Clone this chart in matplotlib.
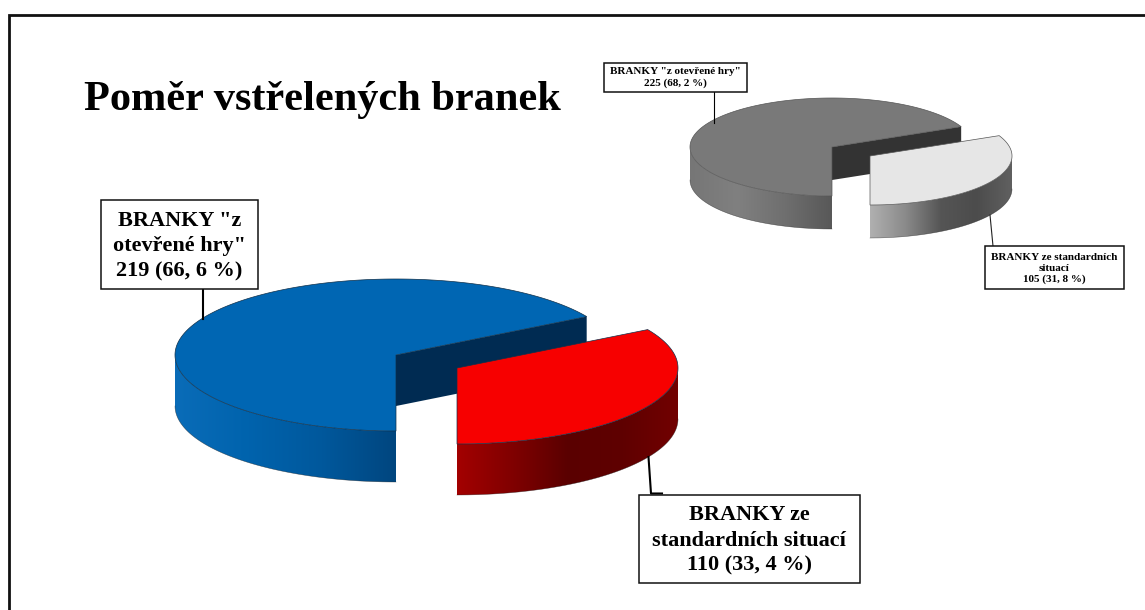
import numpy as np
import matplotlib
matplotlib.use('Agg')
import matplotlib.pyplot as plt
from matplotlib.colors import LinearSegmentedColormap
from matplotlib.patches import Polygon, Rectangle

# hodnoty z grafu
main_values = [219, 110]
main_labels = ['BRANKY "z\notevřené hry"\n219 (66, 6 %)',
               'BRANKY ze\nstandardních situací\n110 (33, 4 %)']
small_values = [225, 105]
small_labels = ['BRANKY "z otevřené hry"\n225 (68, 2 %)',
                'BRANKY ze standardních\nsituací\n105 (31, 8 %)']
title = 'Poměr vstřelených branek'

plt.rcParams['font.family'] = ['Liberation Serif', 'DejaVu Serif']

fig = plt.figure(figsize=(11.45, 6.1), dpi=100)
ax = fig.add_axes([0, 0, 1, 1])
ax.axis('off')


def arc(cx, cy, rx, ry, a0, a1, n=200):
    t = np.radians(np.linspace(a0, a1, n))
    return cx + rx * np.cos(t), cy - ry * np.sin(t)


def side(cx, cy, rx, ry, depth, a0, a1, colors):
    # bocni stena: vodorovny prechod orezany tvarem steny
    cmap = LinearSegmentedColormap.from_list('side', colors)
    x, y = arc(cx, cy, rx, ry, a0, a1, 160)
    pts = np.r_[np.c_[x, y], np.c_[x, y + depth][::-1]]
    shape = Polygon(pts, closed=True, facecolor='none', edgecolor='none',
                    transform=ax.transData)
    ax.add_patch(shape)
    im = ax.imshow(np.linspace(0, 1, 256).reshape(1, -1), cmap=cmap, aspect='auto',
                   extent=(x.min(), x.max(), y.max() + depth, y.min()), zorder=2)
    im.set_clip_path(shape)
    ax.plot(x, y + depth, color='#222222', lw=0.4, alpha=0.6, zorder=3)


def pie3d(values, c1, c2, r, depth, col):
    # prvni dil konci dole (270 stupnu), druhy je vysunuty doprava
    a_big = 360 * values[0] / sum(values)
    start = 270 - a_big
    rx, ry = r
    # rez velkeho dilu
    x0, y0 = c1
    xe = x0 + rx * np.cos(np.radians(start))
    ye = y0 - ry * np.sin(np.radians(start))
    ax.fill([x0, xe, xe, x0], [y0, ye, ye + depth, y0 + depth],
            color=col['cut'], lw=0, zorder=1)
    side(x0, y0, rx, ry, depth, 180, 270, col['side1'])
    x, y = arc(x0, y0, rx, ry, start, 270)
    ax.fill(np.r_[x0, x], np.r_[y0, y], facecolor=col['top1'],
            edgecolor=col['edge'], lw=0.5, zorder=4)
    # vysunuty dil
    x1, y1 = c2
    side(x1, y1, rx, ry, depth, 270, 360, col['side2'])
    x, y = arc(x1, y1, rx, ry, 270, 360 + start)
    ax.fill(np.r_[x1, x], np.r_[y1, y], facecolor=col['top2'],
            edgecolor=col['edge'], lw=0.5, zorder=5)


def label(box, text, size, spacing, dy=0):
    x0, y0, x1, y1 = box
    ax.add_patch(Rectangle((x0, y0), x1 - x0, y1 - y0, facecolor='white',
                           edgecolor='#111111', lw=1.1, zorder=7))
    ax.text((x0 + x1) / 2, (y0 + y1) / 2 + dy, text, ha='center', va='center',
            fontsize=size, fontweight='bold', linespacing=spacing,
            color='black', zorder=8)


# ramecek - jen vlevo a nahore
ax.plot([9, 9, 1145], [610, 14.5, 14.5], color='#111111',
        lw=2, solid_joinstyle='miter', zorder=0)

ax.text(84, 110, title, fontsize=30.5, fontweight='bold', color='black',
        ha='left', va='baseline')

pie3d(main_values, (396, 355), (457, 368), (221, 76), 51, {
    'cut': '#002b52', 'top1': '#0066b3', 'top2': '#f70000', 'edge': '#10304a',
    'side1': ['#0a6cb8', '#0063ad', '#00589c', '#00467f'],
    'side2': ['#a30000', '#800000', '#5a0000', '#5f0000', '#720000'],
})
pie3d(small_values, (832, 147), (870, 156), (142, 49), 33, {
    'cut': '#333333', 'top1': '#797979', 'top2': '#e6e6e6', 'edge': '#555555',
    'side1': ['#767676', '#808080', '#6f6f6f', '#585858'],
    'side2': ['#b0b0b0', '#8a8a8a', '#555555', '#4c4c4c', '#606060'],
})

# odkazove cary
ax.plot([203, 203], [289, 319], color='black', lw=1.5, zorder=6)
ax.plot([648.5, 651, 662], [457, 493.5, 493.5], color='black', lw=1.5, zorder=6)
ax.plot([713.5, 713.5], [92, 123], color='black', lw=0.8, zorder=6)
ax.plot([990, 993], [215, 246], color='#222222', lw=0.8, zorder=6)

label((101, 200, 257.5, 289), main_labels[0], 16, 1.36, dy=2)
label((638.5, 495, 860, 583), main_labels[1], 16, 1.36, dy=1.5)
label((603.5, 63, 746.5, 92), small_labels[0], 8, 1.3)
label((985, 246, 1124, 289), small_labels[1], 8, 1.2, dy=1)

ax.set_xlim(0, 1145)
ax.set_ylim(610, 0)
fig.savefig('out.png', dpi=100, facecolor='white')
